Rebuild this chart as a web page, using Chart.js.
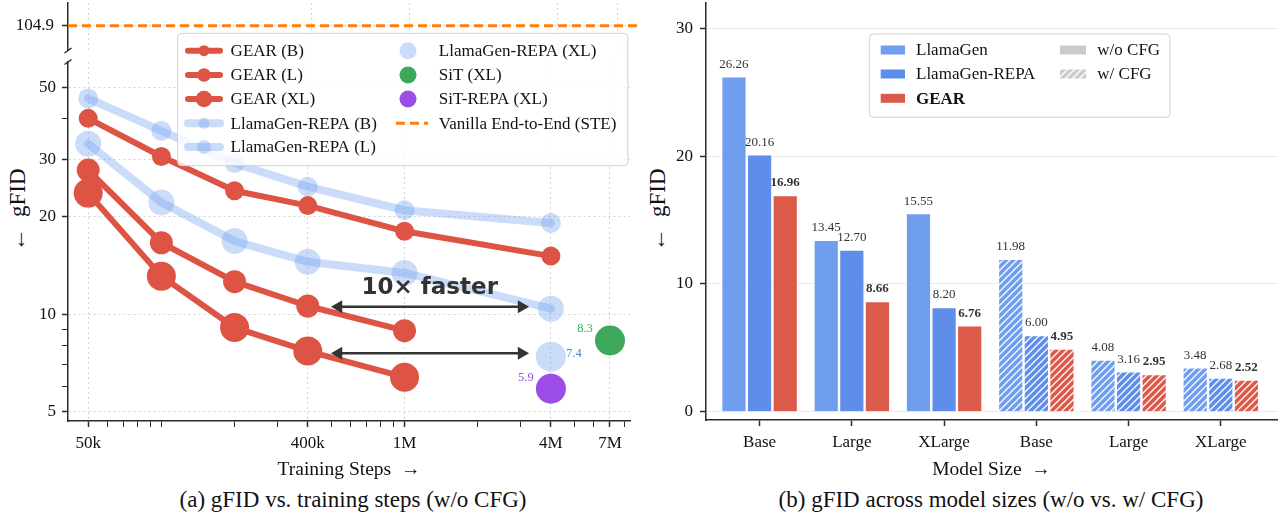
<!DOCTYPE html>
<html><head><meta charset="utf-8">
<script src="https://cdn.jsdelivr.net/npm/chart.js@4.4.0/dist/chart.umd.min.js"></script>
<style>
html,body{margin:0;padding:0;background:#fff;width:1280px;height:516px;overflow:hidden;}
#wrap{position:relative;width:1280px;height:516px;}
canvas{position:absolute;}
.cap{position:absolute;font-family:"Liberation Serif",serif;color:#111;white-space:nowrap;transform:translate(-50%,-50%);font-size:23px;}
.ytitle{position:absolute;font-family:"Liberation Serif",serif;font-size:23px;color:#111;white-space:pre;transform:translate(-50%,-50%) rotate(-90deg);}
</style></head>
<body><div id="wrap">
<canvas id="cTop" width="645" height="52" style="left:0;top:0;z-index:1"></canvas>
<canvas id="cMain" width="645" height="516" style="left:0;top:0;z-index:2"></canvas>
<canvas id="cBar" width="640" height="516" style="left:640px;top:0;z-index:3"></canvas>
<div class="ytitle" style="left:18px;top:210px">←  gFID</div>
<div class="ytitle" style="left:658px;top:210px">←  gFID</div>
<div class="cap" style="left:353px;top:500px">(a) gFID vs. training steps (w/o CFG)</div>
<div class="cap" style="left:991px;top:500px">(b) gFID across model sizes (w/o vs. w/ CFG)</div>
</div>
<script>
// ---------------- data: (a) gFID vs training steps ----------------
const STEPS = [5e4, 1e5, 2e5, 4e5, 1e6, 4e6];
const GEAR_B = [40.1, 30.6, 24.0, 21.6, 18.0, 15.1];
const GEAR_L = [27.8, 16.6, 12.6, 10.6, 8.9];
const GEAR_XL = [23.6, 13.1, 9.1, 7.7, 6.4];
const LG_REPA_B = [46.2, 36.7, 29.2, 24.7, 20.9, 19.1];
const LG_REPA_L = [33.5, 22.1, 16.8, 14.5, 13.4, 10.4];
const LG_REPA_XL_STEP = [4e6];
const LG_REPA_XL = [7.4];
const SIT_XL_STEP = [7e6];
const SIT_XL = [8.3];
const SIT_REPA_XL_STEP = [4e6];
const SIT_REPA_XL = [5.9];
const VANILLA_STE = 104.9;
const ARROW_STEPS = [5.35e5, 3.03e6];
const ARROW_FIDS = [10.55, 7.58];
const SPEEDUP_TEXT = '10× faster';
const SPEEDUP_AT = [1.27e6, 12.0];
const X_MIN = 41300, X_MAX = 8.46e6;
const Y_MIN = 4.69, Y_MAX = 59.8;
const X_TICKS = [5e4,6e4,7e4,8e4,9e4,1e5,2e5,3e5,4e5,5e5,6e5,7e5,8e5,9e5,1e6,2e6,3e6,4e6,5e6,6e6,7e6,8e6];
const X_MAJOR = [5e4, 4e5, 1e6, 4e6, 7e6];
const X_MAJOR_LABELS = ['50k', '400k', '1M', '4M', '7M'];
const Y_TICKS = [5,6,7,8,9,10,20,30,40,50];
const Y_MAJOR = [5, 10, 20, 30, 50];
const Y_TOP_TICKS = [104.9];

// ---------------- data: (b) gFID across model sizes ----------------
const MODEL_SIZES = ['Base', 'Large', 'XLarge', 'Base', 'Large', 'XLarge'];
const WITH_CFG = [false, false, false, true, true, true];
const BAR_LLAMAGEN = [26.26, 13.45, 15.55, 11.98, 4.08, 3.48];
const BAR_LLAMAGEN_REPA = [20.16, 12.70, 8.20, 6.00, 3.16, 2.68];
const BAR_GEAR = [16.96, 8.66, 6.76, 4.95, 2.95, 2.52];
const BAR_Y_TICKS = [0, 10, 20, 30];

// ---------------- styles ----------------
Chart.defaults.font.family = '"Liberation Serif", "Times New Roman", serif';
Chart.defaults.color = '#111';
const RED = '#dd5444';
const LB = 'rgba(110,158,238,0.36)';
const GREEN = '#3da85a';
const PURPLE = '#9b4de6';
const ORANGE = '#ff7f0e';
const AXIS = '#2b2b2b';
const GRID = '#d4d4d4';
const C_LG = '#6f9eee';
const C_REPA = '#5e8eea';
const C_GEAR = '#dc5a4a';
const C_GRAY = '#c9cccf';

function pts(xs, ys) { return ys.map((v, i) => ({x: xs[i], y: v})); }

function hatch(color) {
  const s = 7, c = document.createElement('canvas');
  c.width = s; c.height = s;
  const g = c.getContext('2d');
  g.fillStyle = color; g.fillRect(0, 0, s, s);
  g.strokeStyle = 'rgba(255,255,255,0.95)'; g.lineWidth = 1.4;
  g.beginPath();
  g.moveTo(0, s); g.lineTo(s, 0);
  g.moveTo(-1, 1); g.lineTo(1, -1);
  g.moveTo(s - 1, s + 1); g.lineTo(s + 1, s - 1);
  g.stroke();
  return g.createPattern(c, 'repeat');
}

const isMajorX = c => c.tick && X_MAJOR.includes(c.tick.value);
const isMajorY = c => c.tick && Y_MAJOR.includes(c.tick.value);
const noPadY = (s, w) => { s.width = w; s.paddingTop = 0; s.paddingBottom = 0; };
const noPadX = (s, h) => { s.height = h; s.paddingLeft = 0; s.paddingRight = 0; };

function xLogScale(main) {
  return {
    type: 'logarithmic', min: X_MIN, max: X_MAX,
    afterBuildTicks: s => { s.ticks = X_TICKS.map(v => ({value: v})); },
    afterFit: s => noPadX(s, main ? 95 : 2),
    ticks: {display: main, autoSkip: false, maxRotation: 0, minRotation: 0, padding: 6, font: {size: 17}, color: '#111',
      callback: v => { const i = X_MAJOR.indexOf(v); return i >= 0 ? X_MAJOR_LABELS[i] : ''; }},
    grid: {color: c => isMajorX(c) ? GRID : 'rgba(0,0,0,0)', lineWidth: 1, drawTicks: main, tickLength: 6,
      tickColor: AXIS, tickWidth: c => isMajorX(c) ? 1.5 : 1},
    border: {display: main, color: AXIS, width: 1.5, dash: [2, 3]},
    title: {display: main, text: 'Training Steps  →', font: {size: 19.5}, color: '#111', padding: {top: 0, bottom: 34}}
  };
}

// ---------- top broken-axis panel ----------
new Chart(document.getElementById('cTop'), {
  type: 'line',
  data: {datasets: [{
    label: 'Vanilla End-to-End (STE)',
    data: [{x: X_MIN, y: VANILLA_STE}, {x: X_MAX, y: VANILLA_STE}],
    borderColor: ORANGE, borderWidth: 3, borderDash: [9, 5], pointRadius: 0, fill: false
  }]},
  options: {
    responsive: false, animation: false, events: [],
    layout: {padding: {top: 3, right: 7, left: 0, bottom: 0}},
    scales: {
      x: xLogScale(false),
      y: {type: 'linear', min: 99.73, max: 109.73,
        afterBuildTicks: s => { s.ticks = Y_TOP_TICKS.map(v => ({value: v})); },
        afterFit: s => noPadY(s, 68),
        ticks: {padding: 8, font: {size: 17}, color: '#111', callback: v => v.toFixed(1)},
        grid: {color: GRID, tickColor: AXIS, tickLength: 6, tickWidth: 1.5},
        border: {color: AXIS, width: 1.5, dash: [2, 3]}}
    },
    plugins: {legend: {display: false}, tooltip: {enabled: false}}
  }
});

// ---------- main panel ----------
const mainDatasets = [
  {label: 'arrow1', data: ARROW_STEPS.map(s => ({x: s, y: ARROW_FIDS[0]})), borderColor: '#333', borderWidth: 2.5,
   pointStyle: 'triangle', pointRadius: 7.5, pointBackgroundColor: '#333', pointBorderWidth: 0,
   pointRotation: c => c.dataIndex === 0 ? -90 : 90},
  {label: 'arrow2', data: ARROW_STEPS.map(s => ({x: s, y: ARROW_FIDS[1]})), borderColor: '#333', borderWidth: 2.5,
   pointStyle: 'triangle', pointRadius: 7.5, pointBackgroundColor: '#333', pointBorderWidth: 0,
   pointRotation: c => c.dataIndex === 0 ? -90 : 90},
  {label: 'GEAR (B)', data: pts(STEPS, GEAR_B), borderColor: RED, borderWidth: 6, pointRadius: 9.5, pointBackgroundColor: RED, pointBorderWidth: 0, legendR: 5.5},
  {label: 'GEAR (L)', data: pts(STEPS, GEAR_L), borderColor: RED, borderWidth: 6, pointRadius: 11.5, pointBackgroundColor: RED, pointBorderWidth: 0, legendR: 6.8},
  {label: 'GEAR (XL)', data: pts(STEPS, GEAR_XL), borderColor: RED, borderWidth: 6, pointRadius: 14.5, pointBackgroundColor: RED, pointBorderWidth: 0, legendR: 8.3},
  {label: 'SiT (XL)', data: pts(SIT_XL_STEP, SIT_XL), showLine: false, borderColor: GREEN, pointRadius: 15, pointBackgroundColor: GREEN, pointBorderWidth: 0, legendR: 8.5},
  {label: 'SiT-REPA (XL)', data: pts(SIT_REPA_XL_STEP, SIT_REPA_XL), showLine: false, borderColor: PURPLE, pointRadius: 15, pointBackgroundColor: PURPLE, pointBorderWidth: 0, legendR: 8.5},
  {label: 'LlamaGen-REPA (XL)', data: pts(LG_REPA_XL_STEP, LG_REPA_XL), showLine: false, borderColor: LB, pointRadius: 15, pointBackgroundColor: LB, pointBorderWidth: 0, legendR: 8.5},
  {label: 'LlamaGen-REPA (B)', data: pts(STEPS, LG_REPA_B), borderColor: LB, borderWidth: 8, pointRadius: 10, pointBackgroundColor: LB, pointBorderWidth: 0, legendR: 5.5},
  {label: 'LlamaGen-REPA (L)', data: pts(STEPS, LG_REPA_L), borderColor: LB, borderWidth: 8, pointRadius: 13, pointBackgroundColor: LB, pointBorderWidth: 0, legendR: 7}
];
mainDatasets.forEach(d => { d.tension = 0; d.borderJoinStyle = 'round'; d.borderCapStyle = 'round'; d.fill = false; d.clip = false; });

const POINT_LABELS = [
  {ds: 'SiT (XL)', text: '8.3', color: GREEN, dx: -25, dy: -11.5},
  {ds: 'LlamaGen-REPA (XL)', text: '7.4', color: '#4f7fd6', dx: 23, dy: -2.7},
  {ds: 'SiT-REPA (XL)', text: '5.9', color: PURPLE, dx: -25, dy: -10.7}
];

const LEFT_LEGEND = [
  {label: 'GEAR (B)', col: 0, row: 0}, {label: 'GEAR (L)', col: 0, row: 1}, {label: 'GEAR (XL)', col: 0, row: 2},
  {label: 'LlamaGen-REPA (B)', col: 0, row: 3}, {label: 'LlamaGen-REPA (L)', col: 0, row: 4},
  {label: 'LlamaGen-REPA (XL)', col: 1, row: 0}, {label: 'SiT (XL)', col: 1, row: 1}, {label: 'SiT-REPA (XL)', col: 1, row: 2},
  {label: 'Vanilla End-to-End (STE)', col: 1, row: 3, dashed: true}
];

function roundRect(ctx, x, y, w, h, r) {
  ctx.beginPath();
  ctx.moveTo(x + r, y); ctx.lineTo(x + w - r, y); ctx.arcTo(x + w, y, x + w, y + r, r);
  ctx.lineTo(x + w, y + h - r); ctx.arcTo(x + w, y + h, x + w - r, y + h, r);
  ctx.lineTo(x + r, y + h); ctx.arcTo(x, y + h, x, y + h - r, r);
  ctx.lineTo(x, y + r); ctx.arcTo(x, y, x + r, y, r); ctx.closePath();
}

const mainPlugin = {
  id: 'mainDeco',
  afterDatasetsDraw(chart) {
    const {ctx, scales: {x, y}} = chart;
    ctx.save();
    ctx.textAlign = 'center'; ctx.textBaseline = 'middle';
    ctx.font = 'bold 23px "DejaVu Sans", sans-serif';
    ctx.fillStyle = '#333';
    ctx.fillText(SPEEDUP_TEXT, x.getPixelForValue(SPEEDUP_AT[0]), y.getPixelForValue(SPEEDUP_AT[1]));
    ctx.font = '12.5px "Liberation Serif", serif';
    POINT_LABELS.forEach(p => {
      const idx = chart.data.datasets.findIndex(d => d.label === p.ds);
      const el = chart.getDatasetMeta(idx).data[0];
      ctx.fillStyle = p.color;
      ctx.fillText(p.text, el.x + p.dx, el.y + p.dy);
    });
    ctx.restore();
  },
  afterDraw(chart) {
    const {ctx} = chart;
    ctx.save();
    // axis break marks
    ctx.strokeStyle = AXIS; ctx.lineWidth = 1.5;
    ctx.beginPath();
    ctx.moveTo(64.5, 53); ctx.lineTo(71.5, 48);
    ctx.moveTo(64.5, 64.5); ctx.lineTo(71.5, 59.5);
    ctx.stroke();
    // legend box
    roundRect(ctx, 177.6, 33.3, 450.2, 132.4, 4);
    ctx.fillStyle = 'rgba(255,255,255,0.82)'; ctx.fill();
    ctx.strokeStyle = '#d0d0d0'; ctx.lineWidth = 1; ctx.stroke();
    const rowsY = [50.7, 75, 99, 123.3, 147];
    const cols = [{x1: 188, x2: 220, tx: 230.6}, {x1: 395, x2: 422, tx: 438.8}];
    ctx.font = '17px "Liberation Serif", serif';
    ctx.textBaseline = 'middle'; ctx.textAlign = 'left';
    LEFT_LEGEND.forEach(e => {
      const c = cols[e.col], yy = rowsY[e.row];
      if (e.dashed) {
        ctx.save(); ctx.strokeStyle = ORANGE; ctx.lineWidth = 3; ctx.setLineDash([9, 5]);
        ctx.beginPath(); ctx.moveTo(c.x1 + 1, yy); ctx.lineTo(c.x2 + 6, yy); ctx.stroke(); ctx.restore();
      } else {
        const d = chart.data.datasets.find(dd => dd.label === e.label);
        const cx = e.col === 0 ? (c.x1 + c.x2) / 2 : 408;
        if (d.showLine !== false) {
          ctx.save(); ctx.strokeStyle = d.borderColor; ctx.lineWidth = d.borderWidth; ctx.lineCap = 'round';
          ctx.beginPath(); ctx.moveTo(c.x1, yy); ctx.lineTo(c.x2, yy); ctx.stroke(); ctx.restore();
        }
        ctx.fillStyle = d.pointBackgroundColor;
        ctx.beginPath(); ctx.arc(cx, yy, d.legendR, 0, Math.PI * 2); ctx.fill();
      }
      ctx.fillStyle = '#111';
      ctx.fillText(e.label, c.tx, yy + 1);
    });
    ctx.restore();
  }
};

new Chart(document.getElementById('cMain'), {
  type: 'line',
  data: {datasets: mainDatasets},
  options: {
    responsive: false, animation: false, events: [],
    layout: {padding: {top: 62, right: 7, left: 0, bottom: 0}},
    scales: {
      x: xLogScale(true),
      y: {type: 'logarithmic', min: Y_MIN, max: Y_MAX,
        afterBuildTicks: s => { s.ticks = Y_TICKS.map(v => ({value: v})); },
        afterFit: s => noPadY(s, 68),
        ticks: {autoSkip: false, padding: 6, font: {size: 17}, color: '#111',
          callback: v => Y_MAJOR.includes(v) ? String(v) : ''},
        grid: {color: c => isMajorY(c) ? GRID : 'rgba(0,0,0,0)', tickColor: AXIS, tickLength: 6,
          tickWidth: c => isMajorY(c) ? 1.5 : 1},
        border: {color: AXIS, width: 1.5, dash: [2, 3]}}
    },
    plugins: {legend: {display: false}, tooltip: {enabled: false}}
  },
  plugins: [mainPlugin]
});

// ---------- bar chart ----------
const H_LG = hatch(C_LG), H_REPA = hatch(C_REPA), H_GEAR = hatch(C_GEAR), H_GRAY = hatch(C_GRAY);
function barDs(label, vals, solid, pattern, bold) {
  return {label, data: vals.map((v, i) => ({x: i, y: v})),
    backgroundColor: c => WITH_CFG[c.dataIndex] ? pattern : solid,
    borderColor: '#ffffff', borderWidth: 1.2, borderSkipped: 'bottom',
    categoryPercentage: 0.833, barPercentage: 1.0, swatch: solid, boldLabel: bold};
}
const barLabelsPlugin = {
  id: 'barLabels',
  afterDatasetsDraw(chart) {
    const {ctx} = chart;
    ctx.save();
    ctx.textAlign = 'center'; ctx.textBaseline = 'middle'; ctx.fillStyle = '#333';
    chart.data.datasets.forEach((d, i) => {
      ctx.font = (d.boldLabel ? 'bold ' : '') + '13px "Liberation Serif", serif';
      chart.getDatasetMeta(i).data.forEach((el, j) => {
        ctx.fillText(d.data[j].y.toFixed(2), el.x, el.y - 12);
      });
    });
    ctx.restore();
  },
  afterDraw(chart) {
    const {ctx} = chart;
    ctx.save();
    roundRect(ctx, 229.3, 34, 300.7, 83.3, 4);
    ctx.fillStyle = 'rgba(255,255,255,0.85)'; ctx.fill();
    ctx.strokeStyle = '#d0d0d0'; ctx.lineWidth = 1; ctx.stroke();
    const rows = [50, 74, 98.3];
    ctx.textBaseline = 'middle'; ctx.textAlign = 'left';
    chart.data.datasets.forEach((d, i) => {
      ctx.fillStyle = d.swatch; ctx.fillRect(240.7, rows[i] - 4.5, 24.3, 9);
      ctx.fillStyle = '#111';
      ctx.font = (d.boldLabel ? 'bold ' : '') + '17px "Liberation Serif", serif';
      ctx.fillText(d.label, 276, rows[i] + 1);
    });
    ctx.fillStyle = C_GRAY; ctx.fillRect(420, rows[0] - 4.5, 26, 9);
    ctx.fillStyle = H_GRAY; ctx.fillRect(420, rows[1] - 4.5, 26, 9);
    ctx.fillStyle = '#111'; ctx.font = '17px "Liberation Serif", serif';
    ctx.fillText('w/o CFG', 457.3, rows[0] + 1);
    ctx.fillText('w/ CFG', 457.3, rows[1] + 1);
    ctx.restore();
  }
};

new Chart(document.getElementById('cBar'), {
  type: 'bar',
  data: {datasets: [
    barDs('LlamaGen', BAR_LLAMAGEN, C_LG, H_LG, false),
    barDs('LlamaGen-REPA', BAR_LLAMAGEN_REPA, C_REPA, H_REPA, false),
    barDs('GEAR', BAR_GEAR, C_GEAR, H_GEAR, true)
  ]},
  options: {
    responsive: false, animation: false, events: [],
    layout: {padding: {top: 3, right: 3, left: 0, bottom: 0}},
    scales: {
      x: {type: 'linear', offset: false, min: -0.581, max: 5.609,
        afterBuildTicks: s => { s.ticks = MODEL_SIZES.map((_, i) => ({value: i})); },
        afterFit: s => noPadX(s, 96),
        ticks: {autoSkip: false, maxRotation: 0, padding: 6, font: {size: 17}, color: '#111',
          callback: v => MODEL_SIZES[v] !== undefined ? MODEL_SIZES[v] : ''},
        grid: {drawOnChartArea: false, offset: false, tickLength: 6, tickColor: AXIS, tickWidth: 1.5},
        border: {color: AXIS, width: 1.5},
        title: {display: true, text: 'Model Size  →', font: {size: 19.5}, color: '#111', padding: {top: 0, bottom: 34}}},
      y: {type: 'linear', min: -0.65, max: 32,
        afterBuildTicks: s => { s.ticks = BAR_Y_TICKS.map(v => ({value: v})); },
        afterFit: s => noPadY(s, 66),
        ticks: {padding: 7, font: {size: 17}, color: '#111'},
        grid: {color: '#ebebeb', tickColor: AXIS, tickLength: 6, tickWidth: 1.5},
        border: {color: AXIS, width: 1.5}}
    },
    plugins: {legend: {display: false}, tooltip: {enabled: false}}
  },
  plugins: [barLabelsPlugin]
});
</script>
</body></html>
